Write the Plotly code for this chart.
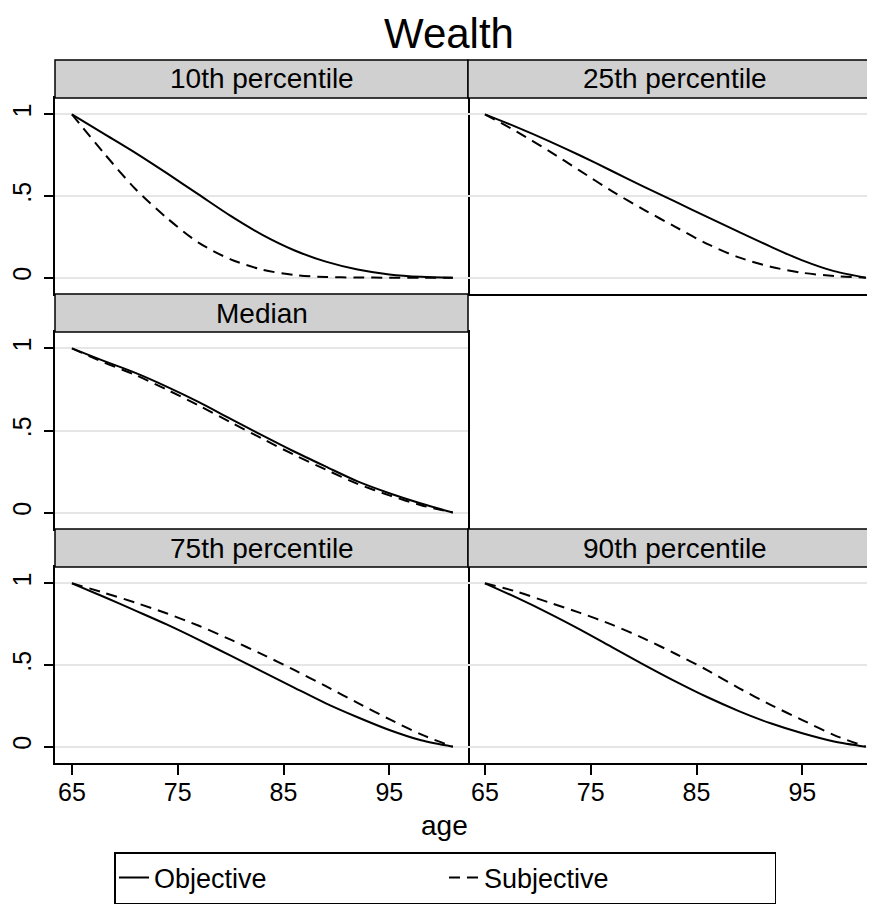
import plotly.graph_objects as go

# ---------------- data ----------------
ages = [65, 68, 71, 74, 77, 80, 83, 86, 89, 92, 95, 98, 101]

panel_titles = ["10th percentile", "25th percentile", "Median", "75th percentile", "90th percentile"]

obj_p10 = [1.0, 0.882, 0.764, 0.638, 0.508, 0.378, 0.262, 0.168, 0.098, 0.050, 0.020, 0.005, 0.0]
sub_p10 = [1.0, 0.764, 0.543, 0.364, 0.213, 0.112, 0.049, 0.016, 0.004, 0.001, 0.0, 0.0, 0.0]

obj_p25 = [1.0, 0.922, 0.838, 0.748, 0.653, 0.558, 0.465, 0.372, 0.280, 0.190, 0.106, 0.040, 0.0]
sub_p25 = [1.0, 0.894, 0.778, 0.654, 0.530, 0.417, 0.311, 0.207, 0.124, 0.067, 0.030, 0.010, 0.0]

obj_med = [1.0, 0.924, 0.851, 0.766, 0.673, 0.571, 0.470, 0.372, 0.280, 0.190, 0.118, 0.055, 0.0]
sub_med = [1.0, 0.915, 0.838, 0.748, 0.652, 0.550, 0.450, 0.352, 0.262, 0.175, 0.105, 0.045, 0.0]

obj_p75 = [1.0, 0.918, 0.833, 0.747, 0.654, 0.557, 0.460, 0.362, 0.265, 0.180, 0.102, 0.039, 0.0]
sub_p75 = [1.0, 0.943, 0.882, 0.815, 0.740, 0.655, 0.565, 0.470, 0.370, 0.268, 0.168, 0.075, 0.0]

obj_p90 = [1.0, 0.912, 0.818, 0.717, 0.610, 0.503, 0.400, 0.304, 0.218, 0.143, 0.082, 0.032, 0.0]
sub_p90 = [1.0, 0.949, 0.884, 0.819, 0.747, 0.663, 0.569, 0.469, 0.359, 0.256, 0.163, 0.071, 0.0]

x_ticks = [65, 75, 85, 95]
y_ticks = [0, 0.5, 1]
y_ticktext = ["0", ".5", "1"]
series_names = ["Objective", "Subjective"]

# ---------------- layout geometry ----------------
W, H = 875, 913
OFF = 8  # page body margin offset
FONT = "Liberation Sans, Arial, Helvetica, sans-serif"

def px_x(p):
    return (p - OFF) / W

def px_y(p):
    return 1 - (p - OFF) / H

col_dom = [[px_x(55), px_x(468)], [px_x(468), 1.0]]
# (header_top, plot_top, plot_bottom) in pixels
rows_px = [(60, 98, 294), (294, 332, 529), (529, 567, 763)]

panels = [
    (0, 0, obj_p10, sub_p10),
    (0, 1, obj_p25, sub_p25),
    (1, 0, obj_med, sub_med),
    (2, 0, obj_p75, sub_p75),
    (2, 1, obj_p90, sub_p90),
]

fig = go.Figure()
shapes = []
annotations = []

layout_axes = {}
for i, (r, c, obj, sub) in enumerate(panels):
    n = i + 1
    xa = "x" if n == 1 else f"x{n}"
    ya = "y" if n == 1 else f"y{n}"
    xkey = "xaxis" if n == 1 else f"xaxis{n}"
    ykey = "yaxis" if n == 1 else f"yaxis{n}"
    htop, ptop, pbot = rows_px[r]
    bottom_row = (r == 2)
    left_col = (c == 0)
    dom_px = (col_dom[c][1] - col_dom[c][0]) * W
    xr_end = 63.4 + dom_px / 10.58
    layout_axes[xkey] = dict(
        domain=col_dom[c], anchor=ya, range=[63.4, xr_end],
        tickvals=x_ticks, showticklabels=bottom_row,
        ticks="outside" if bottom_row else "", ticklen=10, tickwidth=1.5, tickcolor="black",
        ticklabelstandoff=-4,
        showgrid=False, zeroline=False,
        showline=True, mirror=True, linecolor="black", linewidth=1.5,
        tickfont=dict(family=FONT, size=25, color="black"),
    )
    layout_axes[ykey] = dict(
        domain=[px_y(pbot), px_y(ptop)], anchor=xa, range=[-0.1, 1.1],
        tickvals=y_ticks, ticktext=y_ticktext, showticklabels=left_col,
        ticks="outside" if left_col else "", ticklen=9, tickwidth=1.5, tickcolor="black",
        tickangle=-90, ticklabelstandoff=3,
        showgrid=True, gridcolor="#e6e6e6", gridwidth=1.5, zeroline=False,
        showline=left_col, mirror=left_col, linecolor="black", linewidth=1.5,
        tickfont=dict(family=FONT, size=25, color="black"),
    )
    fig.add_trace(go.Scatter(
        x=ages, y=obj, mode="lines", name=series_names[0],
        line=dict(color="black", width=2, shape="spline", smoothing=0.8),
        xaxis=xa, yaxis=ya, showlegend=(n == 1), legendgroup="obj",
    ))
    fig.add_trace(go.Scatter(
        x=ages, y=sub, mode="lines", name=series_names[1],
        line=dict(color="black", width=2, dash="11px,7px", shape="spline", smoothing=0.8),
        xaxis=xa, yaxis=ya, showlegend=(n == 1), legendgroup="sub",
    ))
    x0, x1 = col_dom[c]
    if c == 1:
        x1 = 1.005
    shapes.append(dict(
        type="rect", xref="paper", yref="paper",
        x0=x0, x1=x1, y0=px_y(ptop), y1=px_y(htop),
        fillcolor="#d0d0d0", line=dict(color="black", width=1.5), layer="above",
    ))
    annotations.append(dict(
        text=panel_titles[i], xref="paper", yref="paper",
        x=(col_dom[c][0] + (px_x(882) if c == 1 else col_dom[c][1])) / 2,
        y=(px_y(ptop) + px_y(htop)) / 2,
        xanchor="center", yanchor="middle", showarrow=False,
        font=dict(family=FONT, size=28, color="black"),
    ))

annotations.append(dict(
    text="Wealth", xref="paper", yref="paper", x=px_x(449), y=1.0,
    xanchor="center", yanchor="top", showarrow=False,
    font=dict(family=FONT, size=42, color="black"),
))
annotations.append(dict(
    text="age", xref="paper", yref="paper", x=px_x(444), y=px_y(825),
    xanchor="center", yanchor="middle", showarrow=False,
    font=dict(family=FONT, size=28, color="black"),
))

fig.update_layout(
    width=W, height=H,
    margin=dict(l=0, r=0, t=0, b=0),
    paper_bgcolor="white", plot_bgcolor="white",
    showlegend=True,
    legend=dict(
        orientation="h", x=px_x(445), xanchor="center", y=px_y(852), yanchor="top",
        bordercolor="black", borderwidth=1.5, bgcolor="white",
        font=dict(family=FONT, size=27, color="black"),
        entrywidth=285, entrywidthmode="pixels",
        itemwidth=30,
    ),
    shapes=shapes,
    annotations=annotations,
    **layout_axes,
)

fig.write_html("out.html")
